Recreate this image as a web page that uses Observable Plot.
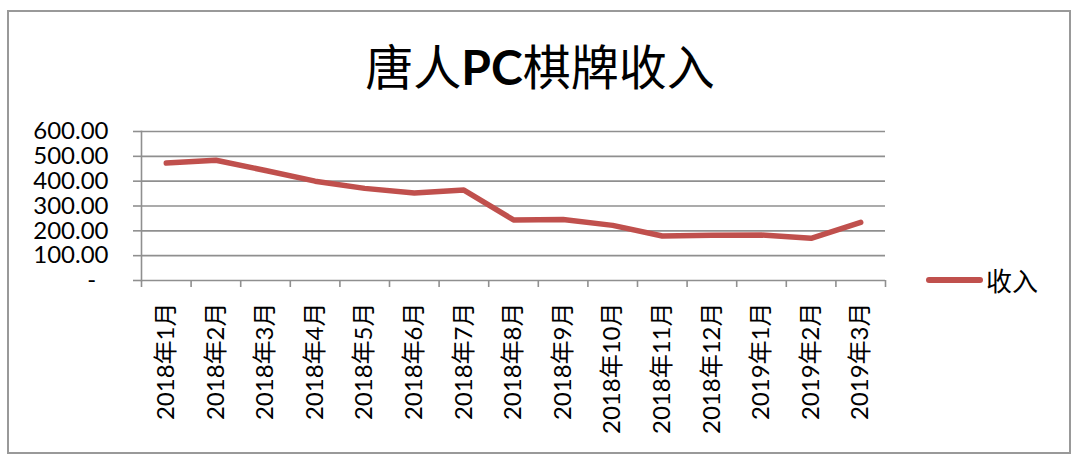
<!DOCTYPE html>
<html><head><meta charset="utf-8">
<script src="https://cdn.jsdelivr.net/npm/d3@7"></script>
<script src="https://cdn.jsdelivr.net/npm/@observablehq/plot@0.6"></script>
<style>
  html,body{margin:0;padding:0;background:#fff;}
  #wrap{position:relative;width:1080px;height:462px;overflow:hidden;font-family:Lato,"Noto Sans CJK SC",sans-serif;}
  #frame{position:absolute;left:7px;top:10px;width:1064px;height:444px;border:2px solid #999;box-sizing:border-box;}
  #title{position:absolute;left:0;top:38px;width:1080px;text-align:center;font-size:48px;line-height:52px;color:#000;font-family:"Noto Sans CJK SC",sans-serif;}
  #title b{font-family:Lato,sans-serif;font-weight:bold;}
  #chart{position:absolute;left:0;top:100px;}
  #legend{position:absolute;left:926px;top:261px;display:flex;align-items:center;font-size:26px;font-family:"Noto Sans CJK SC",sans-serif;color:#000;}
  #legend .sw{width:57px;height:6px;border-radius:3px;background:#c0504d;margin-right:3px;}
</style></head>
<body>
<div id="wrap">
  <div id="frame"></div>
  <div id="title">唐人<b>PC</b>棋牌收入</div>
  <div id="chart"></div>
  <div id="legend"><div class="sw"></div><span>收入</span></div>
</div>
<script>
const categories = ["2018年1月","2018年2月","2018年3月","2018年4月","2018年5月","2018年6月","2018年7月","2018年8月","2018年9月","2018年10月","2018年11月","2018年12月","2019年1月","2019年2月","2019年3月"];
const revenue = [473, 484, 443, 400, 371, 352, 364, 244, 246, 222, 179, 182, 183, 170, 234];
const yTicks = [0, 100, 200, 300, 400, 500, 600];

const n = categories.length;
const data = categories.map((c, i) => ({i, c, v: revenue[i]}));
const boundaries = d3.range(n + 1).map(k => k - 0.5);
const centers = d3.range(n);
const gridColor = "#8f8f8f";

const chart = Plot.plot({
  width: 1080,
  height: 362,
  marginTop: 31,
  marginLeft: 141,
  marginRight: 195,
  marginBottom: 182,
  style: {fontFamily: 'Lato, "Noto Sans CJK SC", sans-serif', fontSize: "24px", color: "#000", background: "transparent", overflow: "visible"},
  x: {type: "linear", domain: [-0.5, n - 0.5], axis: null},
  y: {domain: [0, 600], axis: null},
  marks: [
    Plot.gridY(yTicks, {stroke: gridColor, strokeOpacity: 1, strokeWidth: 1.6}),
    Plot.axisY(yTicks, {tickSize: 8, tickPadding: 25, label: null, stroke: gridColor, strokeWidth: 1.6, fill: "#000", fontSize: 24,
      tickFormat: d => d === 0 ? "-\u00a0\u00a0" : d.toFixed(2)}),
    Plot.frame({anchor: "left", stroke: gridColor, strokeWidth: 1.6}),
    Plot.axisX(boundaries, {tickSize: 7, tickFormat: () => "", label: null, stroke: gridColor, strokeWidth: 1.6}),
    Plot.axisX(centers, {tickSize: 0, tickPadding: 22, tickRotate: -90, label: null, fill: "#000", fontSize: 24,
      tickFormat: k => categories[k]}),
    Plot.line(data, {x: "i", y: "v", stroke: "#c0504d", strokeWidth: 5.5, strokeLinecap: "round", strokeLinejoin: "round"})
  ]
});
document.getElementById("chart").appendChild(chart);
</script>
</body></html>
